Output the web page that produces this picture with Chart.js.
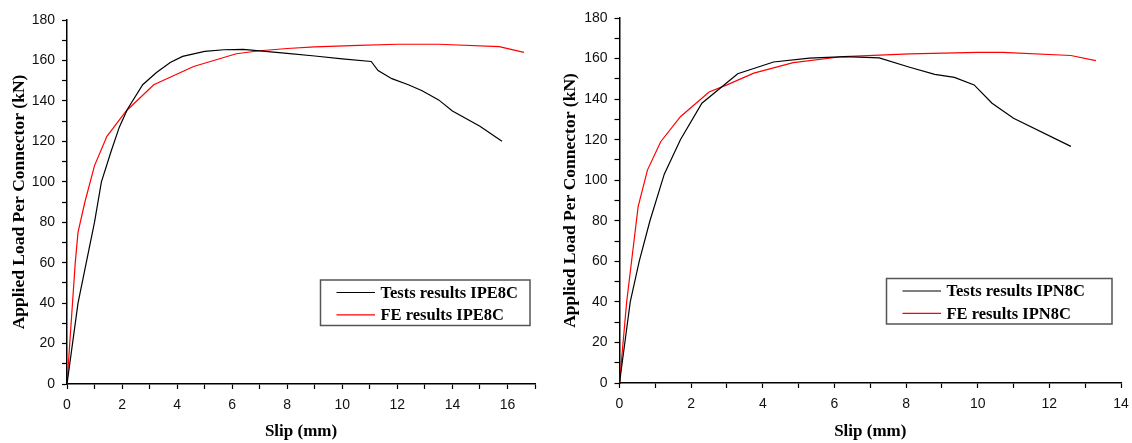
<!DOCTYPE html>
<html>
<head>
    <title>Load-Slip Curves IPE8C / IPN8C</title>
    <script src="https://cdn.jsdelivr.net/npm/chart.js"></script>
    <style>
body { margin: 0; background: #ffffff; }
.panel { position: absolute; top: 0; height: 443px; }
#leftPanel { left: 0; width: 560px; }
#rightPanel { left: 560px; width: 572px; }
    </style>
</head>
<body>
    <div class="panel" id="leftPanel"><canvas id="chartIPE" width="560" height="443"></canvas></div>
    <div class="panel" id="rightPanel"><canvas id="chartIPN" width="572" height="443"></canvas></div>

    <script>
        // IPE8C - test results (slip mm, load kN)
        const ipeTestSlip = [0, 0.4, 0.7, 1.0, 1.25, 1.6, 1.9, 2.2, 2.75, 3.25, 3.75, 4.2, 5.0, 5.7, 6.4, 7.0, 8.0, 9.0, 10.0, 11.05, 11.3, 11.8, 12.4, 12.9, 13.5, 14.0, 15.0, 15.8];
        const ipeTestLoad = [0, 40, 60, 80, 100, 115, 127, 136, 148, 154, 159, 162, 164.5, 165.3, 165.5, 164.7, 163.5, 162.2, 160.8, 159.5, 155, 151, 148, 145, 140.5, 135, 127.5, 120];
        // IPE8C - FE results
        const ipeFeSlip = [0, 0.15, 0.3, 0.4, 0.65, 1.0, 1.45, 2.15, 3.15, 4.6, 6.15, 7.0, 8.0, 9.0, 10.6, 12.0, 13.5, 15.7, 16.6];
        const ipeFeLoad = [0, 30, 60, 75, 90, 108, 122.5, 135, 148, 157, 163.3, 164.8, 165.9, 166.7, 167.5, 168, 168, 166.8, 164];

        // IPN8C - test results
        const ipnTestSlip = [0, 0.3, 0.55, 0.85, 1.25, 1.7, 2.3, 3.3, 4.3, 5.3, 6.3, 7.25, 8.1, 8.8, 9.35, 9.9, 10.4, 11.0, 12.6];
        const ipnTestLoad = [0, 40, 60, 80, 103, 120, 138, 152.5, 158.3, 160.2, 161, 160.3, 155.7, 152.2, 150.7, 147, 138, 130.6, 116.7];
        // IPN8C - FE results
        const ipnFeSlip = [0, 0.2, 0.35, 0.52, 0.78, 1.15, 1.7, 2.5, 3.0, 3.75, 4.85, 6.25, 8.1, 10.0, 10.7, 12.6, 13.3];
        const ipnFeLoad = [0, 40, 62, 87, 105, 119, 131.3, 143.5, 147, 152.8, 158, 161, 162.3, 163, 163, 161.5, 159];

        const seriesLabels = {
            ipe: ['Tests results IPE8C', 'FE results IPE8C'],
            ipn: ['Tests results IPN8C', 'FE results IPN8C']
        };

        function toPoints(xs, ys) {
            return xs.map((x, i) => ({x: x, y: ys[i]}));
        }

        // legend box drawn inside the plot area, Origin style
        const boxLegend = {
            id: 'boxLegend',
            afterDraw(chart, args, opts) {
                const ctx = chart.ctx;
                ctx.save();
                ctx.strokeStyle = '#555';
                ctx.lineWidth = 1.5;
                ctx.strokeRect(opts.x, opts.y, opts.w, opts.h);
                ctx.font = 'bold 16.5px "Liberation Serif", "Times New Roman", serif';
                ctx.textBaseline = 'middle';
                ctx.fillStyle = '#000';
                chart.data.datasets.forEach((ds, i) => {
                    const ly = opts.y + 12.5 + i * 22.3;
                    ctx.beginPath();
                    ctx.strokeStyle = ds.borderColor;
                    ctx.lineWidth = 1.2;
                    ctx.moveTo(opts.x + 16, ly);
                    ctx.lineTo(opts.x + 54.5, ly);
                    ctx.stroke();
                    ctx.fillText(ds.label, opts.x + 60, ly + 1);
                });
                ctx.restore();
            }
        };

        function createChart(elementId, labels, testPts, fePts, xMax, yWidth, xHeight, pad, yTitlePad, legendBox) {
            return new Chart(document.getElementById(elementId), {
                type: 'line',
                data: {
                    datasets: [{
                        label: labels[0],
                        data: testPts,
                        borderColor: '#000000',
                        borderWidth: 1.2,
                        pointRadius: 0,
                        tension: 0,
                        fill: false
                    }, {
                        label: labels[1],
                        data: fePts,
                        borderColor: '#ff0000',
                        borderWidth: 1.2,
                        pointRadius: 0,
                        tension: 0,
                        fill: false
                    }]
                },
                options: {
                    responsive: false,
                    animation: false,
                    layout: {padding: pad},
                    plugins: {
                        legend: {display: false},
                        tooltip: {enabled: false},
                        boxLegend: legendBox
                    },
                    scales: {
                        x: {
                            type: 'linear',
                            min: 0,
                            max: xMax,
                            // fixed height, and let layout padding alone decide the right edge
                            afterFit: s => { s.height = xHeight; s.paddingLeft = 0; s.paddingRight = 0; },
                            border: {display: true, color: '#000', width: 1.5},
                            grid: {drawOnChartArea: false, drawTicks: true, tickLength: 5, tickColor: '#000', tickWidth: 1.2},
                            ticks: {
                                stepSize: 1,
                                autoSkip: false,
                                maxRotation: 0,
                                padding: 8,
                                color: '#111',
                                font: {family: '"Liberation Sans", Arial, sans-serif', size: 14},
                                callback: v => (v % 2 === 0 ? v : '')
                            },
                            title: {
                                display: true,
                                text: 'Slip (mm)',
                                color: '#000',
                                padding: {top: 0, bottom: 1},
                                font: {family: '"Liberation Serif", "Times New Roman", serif', size: 17, weight: 'bold'}
                            }
                        },
                        y: {
                            type: 'linear',
                            min: 0,
                            max: 180,
                            afterFit: s => { s.width = yWidth; },
                            border: {display: true, color: '#000', width: 1.5},
                            grid: {drawOnChartArea: false, drawTicks: true, tickLength: 5, tickColor: '#000', tickWidth: 1.2},
                            ticks: {
                                stepSize: 10,
                                autoSkip: false,
                                padding: 7,
                                color: '#111',
                                font: {family: '"Liberation Sans", Arial, sans-serif', size: 14},
                                callback: v => (v % 20 === 0 ? v : '')
                            },
                            title: {
                                display: true,
                                text: 'Applied Load Per Connector (kN)',
                                color: '#000',
                                padding: {top: yTitlePad, bottom: 0},
                                font: {family: '"Liberation Serif", "Times New Roman", serif', size: 17.5, weight: 'bold'}
                            }
                        }
                    }
                },
                plugins: [boxLegend]
            });
        }

        createChart('chartIPE', seriesLabels.ipe,
            toPoints(ipeTestSlip, ipeTestLoad), toPoints(ipeFeSlip, ipeFeLoad),
            17, 67, 59, {top: 20, right: 25, left: 0, bottom: 0}, 9,
            {x: 320.5, y: 280, w: 209.5, h: 45.5});

        createChart('chartIPN', seriesLabels.ipn,
            toPoints(ipnTestSlip, ipnTestLoad), toPoints(ipnFeSlip, ipnFeLoad),
            14, 59.5, 60, {top: 18, right: 11, left: 0, bottom: 0}, 0,
            {x: 326.5, y: 278.5, w: 225.5, h: 45.5});
    </script>
</body>
</html>
